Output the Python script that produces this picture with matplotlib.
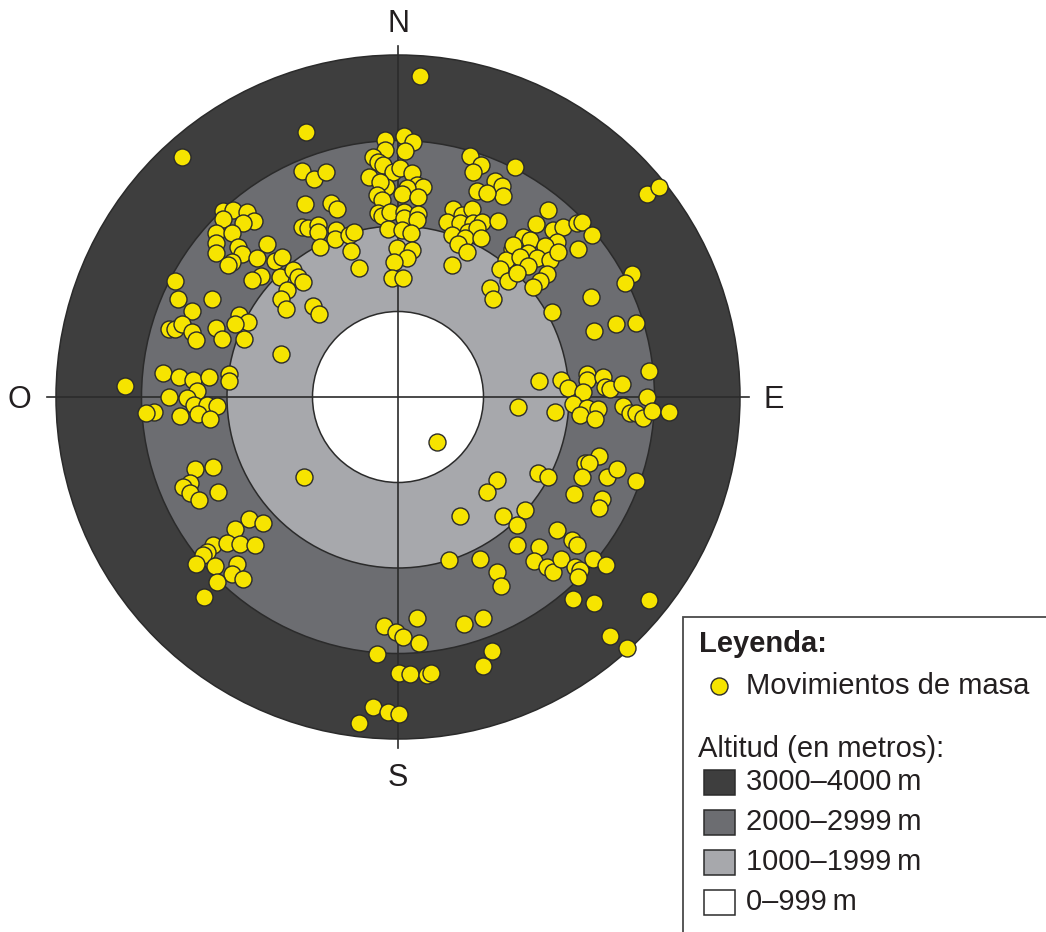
import numpy as np
import matplotlib
matplotlib.use("Agg")
import matplotlib.pyplot as plt
from matplotlib.patches import Circle, Rectangle

plt.rcParams['font.family'] = ['Liberation Sans', 'DejaVu Sans']

# ---------------- data ----------------
# altitude bands (m) drawn as concentric rings (radius = altitude)
ALT_BOUNDS = [4000, 3000, 2000, 1000]
ALT_COLORS = ['#3e3e3e', '#6c6d71', '#a7a8ac', '#ffffff']
ALT_LABELS = ['3000\u20134000\u2009m', '2000\u20132999\u2009m', '1000\u20131999\u2009m', '0\u2013999\u2009m']
DIRECTIONS = ['N', 'E', 'S', 'O']

# mass movements: east / north components (m) of altitude along aspect
EAST_M = [
    -2530, -2050, -1930, -1770, -1680, -1810, -2050, -2130, -1940, -2130,
    -2130, -1870, -1830, -1940, -1990, -1530, -1650, -1440, -1360, -1600,
    -1380, -1710, -2610,
    -1080, -1120, -980, -840, -1090, -780, -710, -1120, -1050, -940,
    -940, -730, -740, -570, -510, -910, -550, -460, -1230, -1170,
    -1110, -1300, -1370, -1310, -990, -920, -1370,
    260, -150, 70, 180, 80, -150, -290, -230, -180, -340,
    -60, 20, 160, -140, -210, 220, 290, 110, 50, 230,
    -250, -190, -230, -190, -90, 70, 70, 230, 220, -120,
    50, 150, -10, 160, 110, -50, -70, 60,
    840, 970, 880, 1130, 1220, 1230, 920, 1040, 1370, 640,
    750, 870, 570, 730, 880, 980, 1170, 630, 820, 920,
    780, 700, 970, 810, 630, 1330, 1260, 1190, 1290, 1080, 1110,
    2910, 3050, 1760, 1610, 1810, 1930, 2090, 2150, 2270, 1460,
    1540, 1860, 1720, 2110, 1350, 1520, 1630, 1780, 1870, 1430,
    1520, 1740, 1660, 1390, 2740, 2660, 1580,
    2260, 1800, 2550, 2780, 2290,
    -2570, -2180, -2410, -2680, -2610, -2530, -2410, -2360, -2130, -2060,
    -1860, -1760, -1910, -1800,
    -2750, -2560, -2400, -2210, -1980, -1980, -2350, -2680, -2470, -2390,
    -2230, -2120, -3190, -2850, -2950, -2550, -2340, -2200,
    460, -1100,
    2940, 1650, 1910, 1990, 2210, 2210, 2160, 2400, 2420, 2480,
    2620, 2910, 2050, 2210, 2340, 2130, 2300, 2630, 2710, 2780,
    2870, 2970, 3170, 1400, 1840,
    2350, 2190, 2230, 1640, 1760, 2150, 2450, 2560, 2780, 2060,
    2390, 2350, 1490,
    1160, 1040, 730, 1230, 1390, 1390, 600, 960, 1160, 1210,
    1860, 2040, 2090, 1650, 1590, 1740, 1810, 1910, 2070, 2130,
    2110, 2280, 2430, 2050, 2290, 2940, 2480, 2680,
    -160, -20, 60, 220, 250, -250, 770, 990, 1100, 990,
    10, 140, 340, 390, -290, -120, 10, -460,
    -2380, -2160, -2430, -2520, -2430, -2330, -2110, -1740, -1580, -1910,
    -2160, -2000, -1850, -1670, -2230, -2280, -2360, -2140, -1880, -1940,
    -1810, -2120, -2270,
]
NORTH_M = [
    2810, 2180, 2190, 2160, 2060, 2040, 2080, 1920, 1920, 1800,
    1680, 1760, 1670, 1580, 1540, 1790, 1630, 1590, 1640, 1420,
    1400, 1370, 1360,
    3100, 2640, 2550, 2630, 2260, 2270, 2200, 1990, 1980, 2010,
    1930, 1950, 1850, 1900, 1930, 1760, 1710, 1510, 1490, 1400,
    1350, 1250, 1150, 1030, 1060, 970, 500,
    3760, 3010, 3050, 2980, 2880, 2890, 2810, 2750, 2710, 2570,
    2630, 2680, 2620, 2460, 2520, 2480, 2460, 2450, 2380, 2340,
    2360, 2300, 2150, 2120, 2160, 2160, 2090, 2140, 2070, 1970,
    1950, 1920, 1740, 1720, 1630, 1580, 1390, 1390,
    2820, 2710, 2630, 2530, 2470, 2350, 2410, 2390, 2690, 2200,
    2130, 2200, 2050, 2040, 2040, 2050, 2060, 1900, 1930, 1980,
    1860, 1790, 1860, 1700, 1540, 1730, 1600, 1500, 1360, 1280, 1150,
    2380, 2460, 2190, 2020, 1950, 1990, 2040, 2050, 1900, 1870,
    1840, 1810, 1770, 1730, 1780, 1680, 1630, 1600, 1700, 1640,
    1530, 1440, 1360, 1450, 1440, 1330, 1290,
    1170, 990, 850, 870, 770,
    1150, 1150, 1010, 800, 800, 850, 760, 670, 810, 680,
    960, 880, 850, 680,
    280, 230, 200, 230, 270, 190, 70, 0, -10, -90,
    -90, -110, 130, -180, -190, -220, -200, -260,
    -530, -940,
    300, 190, 200, 110, 270, 200, 60, 230, 120, 90,
    150, 0, -80, -130, -140, -210, -260, -110, -190, -190,
    -250, -160, -180, -120, -180,
    -690, -770, -770, -890, -940, -940, -940, -840, -980, -1130,
    -1190, -1300, -1320,
    -970, -1110, -1390, -1390, -1500, -1730, -1910, -1900, -2050, -2210,
    -1560, -1670, -1730, -1760, -1920, -1990, -2050, -1900, -1990, -2020,
    -2110, -1900, -1970, -2360, -2410, -2380, -2800, -2940,
    -2680, -2750, -2810, -2590, -2880, -3000, -2660, -2590, -2970, -3150,
    -3230, -3240, -3250, -3230, -3620, -3690, -3710, -3810,
    -840, -820, -1010, -1050, -1120, -1210, -1110, -1430, -1470, -1540,
    -1730, -1710, -1720, -1730, -1810, -1850, -1950, -1980, -1950, -2070,
    -2130, -2160, -2340,
]

# ---------------- layout ----------------
W, H, DPI = 1046, 932, 100
CX, CY = 398, 397          # diagram centre in pixels (from top-left)
PX_PER_KM = 85.5           # diagram scale
mpp = 1000.0 / PX_PER_KM

fig = plt.figure(figsize=(W / DPI, H / DPI), dpi=DPI)
ax = fig.add_axes([0, 0, 1, 1])
ax.set_xlim(-CX * mpp, (W - CX) * mpp)
ax.set_ylim(-(H - CY) * mpp, CY * mpp)
ax.set_aspect('auto')
ax.axis('off')

YELLOW = '#f6e400'
EDGE = '#2b2b2b'
TXT = '#231f20'

for r, c in zip(ALT_BOUNDS, ALT_COLORS):
    ax.add_patch(Circle((0, 0), r, facecolor=c, edgecolor=EDGE, lw=1.1, zorder=1))

L = 4100
ax.plot([-L, L], [0, 0], color='#2b2b2b', lw=1.2, zorder=2)
ax.plot([0, 0], [-L, L], color='#2b2b2b', lw=1.2, zorder=2)

dy = -3.5 * mpp
pos = {'N': (0, 4400 + dy), 'E': (4390, dy), 'S': (0, -4420 + dy), 'O': (-4430, dy)}
for d in DIRECTIONS:
    x, y = pos[d]
    ax.text(x, y, d, fontsize=22, ha='center', va='center', color=TXT, zorder=3)

ax.scatter(EAST_M, NORTH_M, s=150, c=YELLOW, edgecolors=EDGE, linewidths=1.0, zorder=4)

# ---------------- legend (pixel overlay) ----------------
lg = fig.add_axes([0, 0, 1, 1])
lg.set_xlim(0, W)
lg.set_ylim(H, 0)
lg.axis('off')
lg.patch.set_alpha(0)

lg.add_patch(Rectangle((683, 617), W - 683 + 10, H - 617 + 10, facecolor='white',
                       edgecolor='#4a4a4a', lw=1.3, zorder=5))
fs = 21
lg.text(699, 644, 'Leyenda:', fontsize=fs, fontweight='bold', ha='left', va='center',
        color=TXT, zorder=6)
lg.scatter([719], [686], s=150, c=YELLOW, edgecolors=EDGE, linewidths=1.0, zorder=6)
lg.text(746, 686, 'Movimientos de masa', fontsize=fs, ha='left', va='center',
        color=TXT, zorder=6)
lg.text(698, 749, 'Altitud (en metros):', fontsize=fs, ha='left', va='center',
        color=TXT, zorder=6)
for i, (c, t) in enumerate(zip(ALT_COLORS, ALT_LABELS)):
    yc = 782 + 40 * i
    lg.add_patch(Rectangle((704, yc - 12.5), 31, 25, facecolor=c, edgecolor='#2b2b2b',
                           lw=1.1, zorder=6))
    lg.text(746, yc, t, fontsize=fs, ha='left', va='center', color=TXT, zorder=6)

fig.savefig('out.png', dpi=DPI)
